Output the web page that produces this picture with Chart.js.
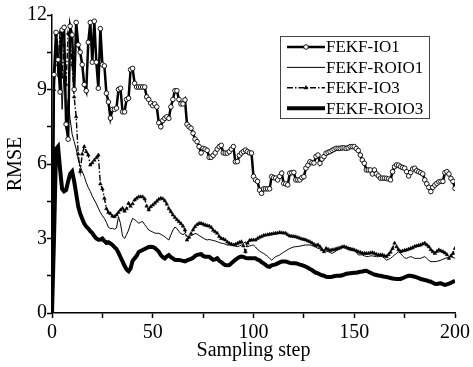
<!DOCTYPE html>
<html>
<head>
<meta charset="utf-8">
<script src="https://cdn.jsdelivr.net/npm/chart.js@4/dist/chart.umd.min.js"></script>
<style>
  html, body { margin: 0; padding: 0; background: #fff; }
  #wrap { width: 473px; height: 367px; }
</style>
</head>
<body>
<div id="wrap"><canvas id="rmseChart" width="473" height="367"></canvas></div>
<script>
// sampling steps 0..200
const steps = Array.from({ length: 201 }, (_, i) => i);

const seriesNames = ['FEKF-IO1', 'FEKF-ROIO1', 'FEKF-IO3', 'FEKF-ROIO3'];

const xTickLabels = [0, 50, 100, 150, 200];
const yTickLabels = [0, 3, 6, 9, 12];

const io1 = [
  0, 9.6, 11.3, 10.2, 8.9, 11.4, 11.5, 7.6, 7.0, 11.55,
  11.2, 9.0, 11.7, 10.8, 10.5, 10.0, 9.2, 8.95, 10.9, 11.7,
  10.1, 11.75, 10.1, 9.05, 11.45, 10.0, 9.95, 8.85, 8.5, 7.85,
  8.2, 8.2, 8.25, 9.0, 9.05, 8.1, 8.1, 8.6, 8.65, 9.8,
  9.85, 9.25, 9.1, 9.1, 9.1, 9.1, 9.1, 8.7, 8.6, 8.45,
  8.35, 8.42, 8.3, 7.66, 7.5, 7.75, 7.84, 7.9, 7.84, 8.3,
  8.6, 8.95, 8.95, 8.6, 8.42, 8.42, 8.58, 7.6, 7.5, 7.44,
  7.24, 7.0, 6.9, 6.7, 6.45, 6.63, 6.6, 6.55, 6.27, 6.27,
  6.35, 6.45, 6.6, 6.7, 6.75, 6.45, 6.44, 6.44, 6.5, 6.6,
  6.7, 6.09, 6.1, 6.35, 6.44, 6.5, 6.56, 6.5, 6.45, 6.44,
  5.5, 5.36, 5.3, 4.95, 4.82, 5.0, 5.0, 5.0, 5.0, 5.49,
  5.45, 5.43, 5.36, 5.5, 5.63, 5.22, 5.2, 5.16, 5.63, 5.65,
  5.66, 5.36, 5.36, 5.36, 5.45, 5.49, 5.83, 5.95, 6.09, 6.05,
  6.04, 6.3, 6.36, 6.03, 6.2, 6.3, 6.43, 6.47, 6.5, 6.55,
  6.59, 6.63, 6.63, 6.63, 6.65, 6.65, 6.63, 6.65, 6.7, 6.7,
  6.7, 6.62, 6.54, 6.36, 6.16, 6.03, 5.76, 5.76, 5.76, 5.6,
  5.76, 5.6, 5.52, 5.43, 5.43, 5.43, 5.42, 5.4, 5.36, 5.69,
  5.89, 5.96, 5.95, 5.89, 5.86, 5.83, 5.69, 5.52, 5.66, 5.8,
  5.83, 5.73, 5.69, 5.65, 5.6, 5.36, 5.2, 5.06, 4.89, 5.06,
  5.15, 5.22, 5.28, 5.3, 5.3, 5.65, 5.69, 5.6, 5.42, 5.3,
  5.02
];

const roio1 = [
  0, 8.5, 10.8, 9.5, 11.0, 8.2, 9.8, 7.4, 8.6, 7.8,
  7.2, 6.9, 6.6, 6.2, 5.9, 5.7, 5.5, 5.25, 5.05, 4.9,
  4.7, 4.55, 4.4, 4.22, 4.05, 3.92, 3.81, 3.65, 3.45, 3.4,
  3.41, 3.37, 3.42, 3.88, 3.6, 3.1, 3.0, 3.15, 3.34, 3.6,
  3.81, 3.76, 3.7, 3.61, 3.66, 3.68, 3.56, 3.45, 3.34, 3.3,
  3.26, 3.22, 3.21, 3.21, 3.17, 3.12, 3.07, 3.0, 2.94, 3.15,
  3.34, 3.46, 3.4, 3.28, 3.2, 3.16, 3.2, 3.1, 3.07, 3.12,
  3.15, 3.2, 3.18, 3.12, 3.07, 3.02, 2.97, 2.94, 2.96, 2.94,
  2.92, 2.9, 2.87, 2.84, 2.81, 2.8, 2.77, 2.74, 2.74, 2.74,
  2.72, 2.69, 2.67, 2.7, 2.74, 2.8, 2.87, 2.67, 2.7, 2.72,
  2.74, 2.66, 2.56, 2.5, 2.44, 2.4, 2.34, 2.28, 2.2, 2.13,
  2.2, 2.27, 2.3, 2.34, 2.4, 2.45, 2.5, 2.55, 2.6, 2.63,
  2.66, 2.67, 2.68, 2.69, 2.71, 2.73, 2.74, 2.74, 2.74, 2.72,
  2.68, 2.65, 2.6, 2.58, 2.55, 2.52, 2.5, 2.47, 2.44, 2.4,
  2.45, 2.5, 2.54, 2.6, 2.66, 2.67, 2.65, 2.64, 2.62, 2.6,
  2.55, 2.45, 2.34, 2.34, 2.34, 2.3, 2.28, 2.27, 2.3, 2.3,
  2.28, 2.27, 2.27, 2.28, 2.27, 2.2, 2.13, 2.16, 2.2, 2.27,
  2.34, 2.4, 2.47, 2.4, 2.3, 2.22, 2.2, 2.24, 2.27, 2.24,
  2.2, 2.2, 2.2, 2.2, 2.24, 2.27, 2.2, 2.12, 2.07, 2.07,
  2.07, 2.08, 2.1, 2.13, 2.16, 2.2, 2.22, 2.25, 2.27, 2.24,
  2.2
];

const io3 = [
  0, 9.0, 11.2, 10.0, 11.3, 9.5, 10.8, 9.2, 11.26, 11.0,
  10.0, 8.7, 7.9, 6.4, 5.7, 6.4, 6.7, 6.5, 6.36, 5.96,
  6.05, 6.15, 6.25, 6.36, 5.2, 5.0, 4.62, 4.2, 4.05, 4.0,
  3.9, 3.88, 3.95, 4.05, 4.15, 4.22, 4.1, 4.2, 4.42, 4.3,
  4.4, 4.55, 4.62, 4.68, 4.68, 4.68, 4.6, 4.3, 4.15, 4.28,
  4.35, 4.42, 4.5, 4.58, 4.62, 4.6, 4.52, 4.38, 4.2, 4.08,
  3.95, 3.85, 3.76, 3.68, 3.6, 3.5, 3.34, 2.94, 3.05, 3.2,
  3.35, 3.48, 3.56, 3.61, 3.61, 3.58, 3.54, 3.52, 3.5, 3.45,
  3.33, 3.27, 3.21, 3.08, 3.0, 2.98, 2.94, 2.86, 2.8, 2.77,
  2.74, 2.76, 2.8, 2.84, 2.87, 2.7, 2.47, 2.81, 2.92, 2.94,
  2.94, 2.94, 3.0, 3.05, 3.08, 3.12, 3.14, 3.15, 3.17, 3.18,
  3.2, 3.21, 3.22, 3.24, 3.23, 3.22, 3.21, 3.15, 3.1, 3.09,
  3.08, 3.07, 3.04, 3.01, 2.98, 2.96, 2.94, 2.9, 2.87, 2.82,
  2.76, 2.72, 2.74, 2.67, 2.55, 2.47, 2.6, 2.56, 2.52, 2.54,
  2.55, 2.58, 2.6, 2.62, 2.66, 2.67, 2.64, 2.6, 2.57, 2.55,
  2.54, 2.5, 2.47, 2.44, 2.41, 2.4, 2.4, 2.4, 2.42, 2.43,
  2.4, 2.36, 2.34, 2.34, 2.34, 2.3, 2.27, 2.35, 2.45, 2.6,
  2.81, 2.67, 2.55, 2.47, 2.5, 2.52, 2.54, 2.57, 2.6, 2.63,
  2.68, 2.7, 2.72, 2.74, 2.78, 2.81, 2.74, 2.67, 2.55, 2.47,
  2.4, 2.48, 2.54, 2.5, 2.47, 2.42, 2.35, 2.2, 2.3, 2.4,
  2.6
];

const roio3 = [
  0, 3.0, 6.6, 6.7, 5.8, 5.0, 4.9, 4.95, 5.3, 5.6,
  5.7, 5.3, 4.8, 4.3, 4.0, 3.8, 3.6, 3.48, 3.4, 3.3,
  3.22, 3.1, 3.0, 2.95, 2.96, 3.0, 2.9, 2.82, 2.85, 2.8,
  2.74, 2.65, 2.58, 2.42, 2.25, 2.08, 1.9, 1.75, 1.68, 1.8,
  2.1, 2.2, 2.3, 2.45, 2.5, 2.54, 2.58, 2.62, 2.66, 2.67,
  2.66, 2.62, 2.55, 2.47, 2.33, 2.25, 2.2, 2.28, 2.33, 2.25,
  2.2, 2.14, 2.13, 2.13, 2.12, 2.1, 2.08, 2.12, 2.15, 2.18,
  2.22, 2.3, 2.34, 2.36, 2.37, 2.3, 2.27, 2.27, 2.27, 2.2,
  2.14, 2.16, 2.2, 2.1, 2.05, 1.98, 1.93, 1.92, 1.93, 2.0,
  2.07, 2.14, 2.2, 2.25, 2.27, 2.26, 2.22, 2.2, 2.2, 2.2,
  2.2, 2.2, 2.15, 2.12, 2.05, 2.0, 1.94, 1.88, 1.86, 1.92,
  1.94, 1.96, 2.0, 2.04, 2.07, 2.07, 2.07, 2.05, 2.02, 2.0,
  2.0, 2.0, 1.98, 1.95, 1.93, 1.9, 1.86, 1.82, 1.77, 1.73,
  1.67, 1.62, 1.6, 1.55, 1.52, 1.5, 1.46, 1.45, 1.45, 1.46,
  1.48, 1.5, 1.5, 1.5, 1.52, 1.55, 1.58, 1.59, 1.6, 1.61,
  1.62, 1.62, 1.64, 1.66, 1.67, 1.69, 1.7, 1.66, 1.62, 1.58,
  1.55, 1.53, 1.51, 1.5, 1.48, 1.46, 1.45, 1.43, 1.41, 1.39,
  1.38, 1.37, 1.37, 1.37, 1.4, 1.44, 1.47, 1.5, 1.5, 1.48,
  1.46, 1.43, 1.4, 1.37, 1.35, 1.33, 1.31, 1.28, 1.26, 1.22,
  1.18, 1.17, 1.19, 1.2, 1.16, 1.13, 1.15, 1.18, 1.22, 1.26,
  1.3
];

const FONT = '"Liberation Serif", "Times New Roman", serif';

function toPoints(vals) {
  return vals.map((v, i) => ({ x: steps[i], y: v }));
}

/**
 * Boxed legend in the upper right, each row showing the line sample
 * (with its marker) followed by the series name.
 */
const boxLegend = {
  id: 'boxLegend',
  afterDraw(chart) {
    const ctx = chart.ctx;
    ctx.save();
    ctx.fillStyle = '#fff';
    ctx.fillRect(280.5, 36.5, 149, 82);
    ctx.strokeStyle = '#444';
    ctx.lineWidth = 1;
    ctx.setLineDash([]);
    ctx.strokeRect(280.5, 36.5, 149, 82);

    chart.data.datasets.forEach((ds, i) => {
      const y = 47 + i * 20.4;
      ctx.beginPath();
      ctx.strokeStyle = '#000';
      ctx.lineWidth = ds.borderWidth;
      ctx.setLineDash(ds.borderDash || []);
      ctx.moveTo(287, y);
      ctx.lineTo(325, y);
      ctx.stroke();
      ctx.setLineDash([]);

      if (ds.legendMarker) {
        ctx.fillStyle = ds.pointBackgroundColor;
        ctx.strokeStyle = ds.pointBorderColor;
        ctx.lineWidth = ds.pointBorderWidth;
        Chart.helpers.drawPoint(ctx, {
          pointStyle: ds.pointStyle,
          radius: ds.legendMarker,
          borderWidth: ds.pointBorderWidth,
          rotation: 0
        }, 306, y);
      }

      ctx.fillStyle = '#000';
      ctx.font = '17px ' + FONT;
      ctx.textAlign = 'left';
      ctx.textBaseline = 'middle';
      ctx.fillText(ds.label, 326, y + 1);
    });
    ctx.restore();
  }
};

function createRmseChart() {
  const ctx = document.getElementById('rmseChart').getContext('2d');
  return new Chart(ctx, {
    type: 'line',
    data: {
      datasets: [{
        label: seriesNames[0],
        data: toPoints(io1),
        borderColor: '#000',
        borderWidth: 2.5,
        pointStyle: 'circle',
        pointRadius: (c) => (c.dataIndex === 0 ? 0 : 2.3),
        pointBackgroundColor: '#fff',
        pointBorderColor: '#000',
        pointBorderWidth: 0.9,
        legendMarker: 2.3
      }, {
        label: seriesNames[1],
        data: toPoints(roio1),
        borderColor: '#000',
        borderWidth: 1,
        pointRadius: 0
      }, {
        label: seriesNames[2],
        data: toPoints(io3),
        borderColor: '#000',
        borderWidth: 1.4,
        borderDash: [6, 2, 1.5, 2],
        pointStyle: 'triangle',
        pointRadius: (c) => (c.dataIndex === 0 ? 0 : 2.1),
        pointBackgroundColor: '#000',
        pointBorderColor: '#000',
        pointBorderWidth: 0.5,
        legendMarker: 2.4
      }, {
        label: seriesNames[3],
        data: toPoints(roio3),
        borderColor: '#000',
        borderWidth: 4,
        pointRadius: 0
      }]
    },
    options: {
      responsive: false,
      animation: false,
      devicePixelRatio: 1,
      layout: { padding: { left: 0, top: 15, right: 15.7, bottom: 0 } },
      elements: { line: { tension: 0 } },
      plugins: {
        legend: { display: false },
        tooltip: { enabled: false }
      },
      scales: {
        x: {
          type: 'linear',
          min: 0,
          max: 200,
          afterFit: (scale) => { scale.height = 54; },
          border: { color: '#000', width: 1.5 },
          grid: { drawOnChartArea: false, drawTicks: true, tickLength: 5, tickColor: '#000', tickWidth: 1.5 },
          ticks: {
            stepSize: 25,
            padding: 3,
            color: '#000',
            font: { family: FONT, size: 20 },
            maxRotation: 0,
            callback: (v) => (xTickLabels.includes(v) ? String(v) : '')
          },
          title: {
            display: true,
            text: 'Sampling step',
            color: '#000',
            font: { family: FONT, size: 20 },
            padding: { top: 0, bottom: 4 }
          }
        },
        y: {
          min: 0,
          max: 12,
          afterFit: (scale) => { scale.width = 52; },
          border: { color: '#000', width: 1.5 },
          grid: { drawOnChartArea: false, drawTicks: true, tickLength: 5, tickColor: '#000', tickWidth: 1.5 },
          ticks: {
            stepSize: 1.5,
            padding: 0,
            color: '#000',
            font: { family: FONT, size: 20 },
            callback: (v) => (yTickLabels.includes(v) ? String(v) : '')
          },
          title: {
            display: true,
            text: 'RMSE',
            color: '#000',
            font: { family: FONT, size: 20 },
            padding: { top: 4, bottom: 0 }
          }
        }
      }
    },
    plugins: [boxLegend]
  });
}

createRmseChart();
</script>
</body>
</html>
